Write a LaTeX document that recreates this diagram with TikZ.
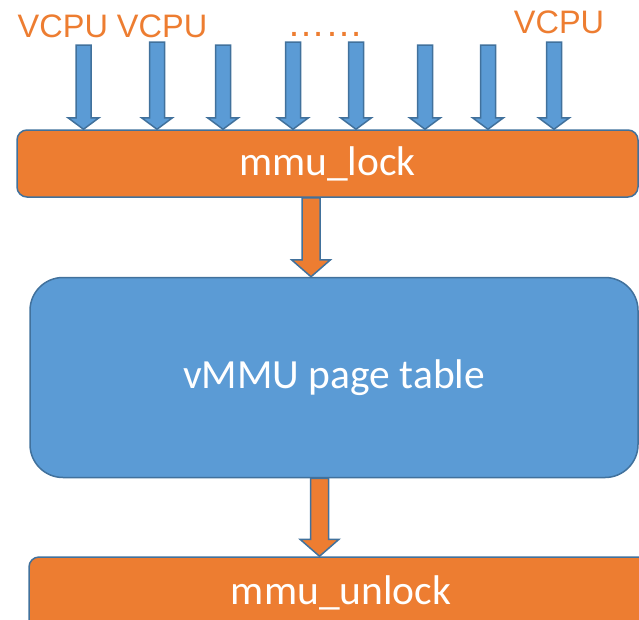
\documentclass[tikz,border=0pt]{standalone}
\usepackage{fontspec}
\setmainfont{Carlito}
\newfontfamily\arialfont{Liberation Sans}
\usetikzlibrary{positioning, calc}
\definecolor{ppOrange}{HTML}{ED7D31}
\definecolor{ppBlue}{HTML}{5B9BD5}
\definecolor{ppEdge}{HTML}{41719C}

\begin{document}
\begin{tikzpicture}[x=1pt, y=-1pt,
    box/.style={draw=ppEdge, line width=1.5pt, fill=ppOrange, text=white, inner sep=0pt, font=\fontsize{41.5}{48}\selectfont},
    vlabel/.style={text=ppOrange, inner sep=0pt, anchor=base, font=\arialfont\fontsize{32.5}{38}\selectfont},
    fat/.style n args={3}{draw=ppEdge, line width=1.5pt,
        to path={($(\tikztostart)+(-#1,0)$) -- ($(\tikztotarget)+(-#1,-#3)$) -- ($(\tikztotarget)+(-#2,-#3)$)
            -- (\tikztotarget) -- ($(\tikztotarget)+(#2,-#3)$) -- ($(\tikztotarget)+(#1,-#3)$) -- ($(\tikztostart)+(#1,0)$) -- cycle}}
]
    \useasboundingbox (0,0) rectangle (639,619);
    \node[box, rounded corners=10pt, minimum width=621pt, minimum height=67pt] (lock) at (327.5,163.5) {mmu\_lock};
    \node[box, fill=ppBlue, rounded corners=33pt, minimum width=608pt, minimum height=200pt, below=79pt of lock, xshift=6.5pt] (vmmu) {vMMU page table};
    \node[box, rounded corners=10pt, minimum width=624pt, minimum height=72pt, below=78pt of vmmu, xshift=7pt] (unlock) {mmu\_unlock};

    \node[vlabel] (vcpuA) at (112.5,37) {VCPU VCPU};
    \node[vlabel, font=\arialfont\fontsize{38}{44}\selectfont] (dots) at (325,36.5) {……};
    \node[vlabel] (vcpuB) at (559,33.5) {VCPU};

    \foreach \x/\t [count=\i] in {83.5/45, 157/42, 223/45, 293/42, 356/42, 425/45, 488/45, 554/42} {
        \coordinate (v\i) at (\x,\t);
        \path (v\i |- lock.north) coordinate (t\i);
        \draw[fat={7.5}{15.5}{11.5}, fill=ppBlue] (v\i) to (t\i);
    }
    \draw[fat={9}{19.5}{17}, fill=ppOrange] ([xshift=-16.5pt]lock.south) to ([xshift=-23pt]vmmu.north);
    \draw[fat={9}{19.5}{17}, fill=ppOrange] ([xshift=-14.5pt]vmmu.south) to ([xshift=-21.5pt]unlock.north);
\end{tikzpicture}
\end{document}
